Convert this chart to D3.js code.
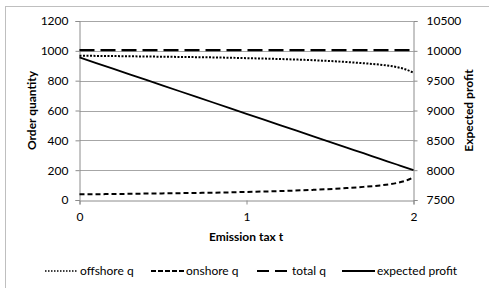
<!DOCTYPE html>
<html>
<head>
<meta charset="utf-8">
<script src="https://cdn.jsdelivr.net/npm/d3@7"></script>
<style>
  body { margin: 0; background: #fff; }
  text { font-family: Lato, "Open Sans", sans-serif; fill: #000; }
</style>
</head>
<body>
<div id="view"></div>
<script>
// emission tax values (x)
const taxT = [0, 0.2, 0.4, 0.6, 0.8, 1.0, 1.2, 1.4, 1.6, 1.7, 1.8, 1.9, 1.95, 2.0];
const offshoreQ = [967, 965, 962, 959, 956, 951, 945, 937, 925, 917, 907, 891, 877, 853];
const onshoreQ = [38, 40, 43, 46, 49, 54, 60, 68, 80, 88, 98, 114, 128, 152];
const totalQ = [1005, 1005, 1005, 1005, 1005, 1005, 1005, 1005, 1005, 1005, 1005, 1005, 1005, 1005];
const expectedProfit = [9890, 9701, 9512, 9323, 9134, 8945, 8756, 8567, 8378, 8284, 8189, 8095, 8047, 8000];

const xTicks = [0, 1, 2];
const leftTicks = [0, 200, 400, 600, 800, 1000, 1200];
const rightTicks = [7500, 8000, 8500, 9000, 9500, 10000, 10500];

const W = 489, H = 288;
const plotLeft = 79.5, plotRight = 413.5, plotTop = 21, plotBottom = 200;

const svg = d3.select("#view").append("svg")
  .attr("width", W)
  .attr("height", H);

// chart frame
svg.append("rect")
  .attr("x", 5.5).attr("y", 6.5)
  .attr("width", 495).attr("height", 295)
  .attr("fill", "#fff").attr("stroke", "#bfbfbf");

const x = d3.scaleLinear().domain([0, 2]).range([plotLeft, plotRight]);
const yL = d3.scaleLinear().domain([0, 1200]).range([plotBottom, plotTop]);
const yR = d3.scaleLinear().domain([7500, 10500]).range([plotBottom, plotTop]);

// gridlines
svg.append("g")
  .selectAll("line")
  .data(leftTicks.slice(1))
  .join("line")
  .attr("x1", plotLeft).attr("x2", plotRight)
  .attr("y1", d => Math.round(yL(d)) + 0.5)
  .attr("y2", d => Math.round(yL(d)) + 0.5)
  .attr("stroke", "#a6a6a6");

// axes
const fmt = d3.format("d");
const gx = svg.append("g")
  .attr("transform", `translate(0, ${plotBottom + 0.5})`)
  .call(d3.axisBottom(x).tickValues(xTicks).tickFormat(fmt).tickSize(4).tickPadding(6));
const gl = svg.append("g")
  .attr("transform", `translate(${plotLeft}, 0)`)
  .call(d3.axisLeft(yL).tickValues(leftTicks).tickFormat(fmt).tickSize(4).tickPadding(5));
const gr = svg.append("g")
  .attr("transform", `translate(${plotRight}, 0)`)
  .call(d3.axisRight(yR).tickValues(rightTicks).tickFormat(fmt).tickSize(4).tickPadding(9));

[gx, gl, gr].forEach(g => {
  g.select(".domain").attr("stroke", "#8c8c8c");
  g.selectAll(".tick line").attr("stroke", "#8c8c8c");
  g.selectAll(".tick text").attr("font-size", 12).attr("font-family", "Lato, sans-serif").attr("fill", "#000");
});
gl.selectAll(".tick text").attr("x", -11);
gr.selectAll(".tick text").attr("x", 13);
gx.selectAll(".tick text").attr("y", 12).attr("dy", "0.71em");

// axis titles
svg.append("text")
  .attr("transform", `translate(36, ${(plotTop + plotBottom) / 2}) rotate(-90)`)
  .attr("text-anchor", "middle")
  .attr("font-size", 12).attr("font-weight", "bold")
  .text("Order quantity");
svg.append("text")
  .attr("transform", `translate(473, ${(plotTop + plotBottom) / 2}) rotate(-90)`)
  .attr("text-anchor", "middle")
  .attr("font-size", 12).attr("font-weight", "bold")
  .text("Expected profit");
svg.append("text")
  .attr("x", 246).attr("y", 241)
  .attr("text-anchor", "middle")
  .attr("font-size", 12).attr("font-weight", "bold")
  .text("Emission tax t");

// series
const series = [
  { name: "offshore q", values: offshoreQ, scale: yL, dash: "2,1.5", w: 2 },
  { name: "onshore q", values: onshoreQ, scale: yL, dash: "5,3", w: 2 },
  { name: "total q", values: totalQ, scale: yL, dash: "15,6", w: 2.2 },
  { name: "expected profit", values: expectedProfit, scale: yR, dash: null, w: 1.8 }
];

series.forEach(s => {
  const line = d3.line()
    .x((d, i) => x(taxT[i]))
    .y(d => s.scale(d))
    .curve(d3.curveMonotoneX);
  svg.append("path")
    .datum(s.values)
    .attr("d", line)
    .attr("fill", "none")
    .attr("stroke", "#000")
    .attr("stroke-width", s.w)
    .attr("stroke-dasharray", s.dash);
});

// legend
const legendX = [45, 151, 257, 342];
const legendDash = ["1.5,1.5", "5,2", "12,6", null];
const legend = svg.append("g").attr("transform", "translate(0, 271)");
series.forEach((s, i) => {
  legend.append("line")
    .attr("x1", legendX[i]).attr("x2", legendX[i] + 33)
    .attr("y1", 0).attr("y2", 0)
    .attr("stroke", "#000")
    .attr("stroke-width", i === 0 ? 1.6 : s.w)
    .attr("stroke-dasharray", legendDash[i]);
  legend.append("text")
    .attr("x", legendX[i] + 35).attr("y", 0)
    .attr("dy", "0.35em")
    .attr("font-size", 12)
    .text(s.name);
});
</script>
</body>
</html>
